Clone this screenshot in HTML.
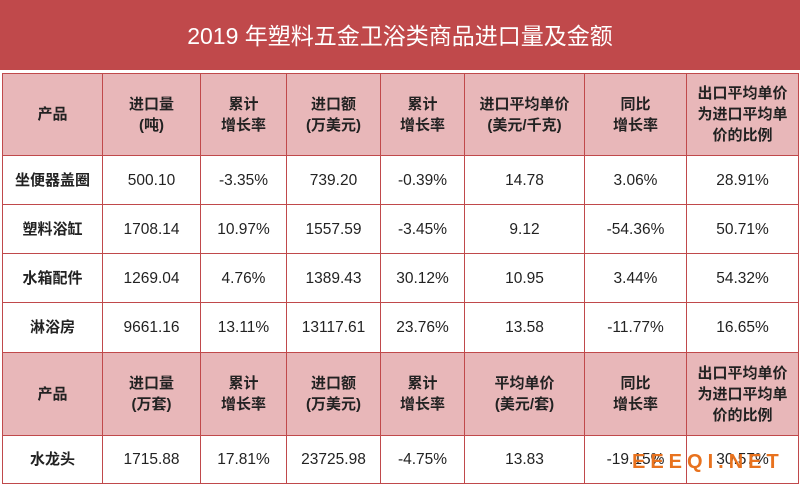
<!DOCTYPE html><html><head><meta charset="utf-8"><style>
body{margin:0;width:800px;height:486px;background:#fff;font-family:"Liberation Sans","Noto Sans CJK SC",sans-serif;overflow:hidden;position:relative}
.t{position:absolute;left:0;top:0;width:800px;height:70px;background:#c0494b;color:#fff;font-size:23px;text-align:center;line-height:72px}
table{position:absolute;left:2px;top:73px;width:796px;border-collapse:collapse;table-layout:fixed}
td{border:1.5px solid #c0494b;text-align:center;font-size:15.5px;color:#222;padding:0;line-height:21px}
tr.h td{background:#e8b7b9;font-weight:bold;font-size:15px}
td.n{font-weight:bold;font-size:15px}
.w{position:absolute;left:632px;top:451px;font-size:20px;font-weight:bold;letter-spacing:5px;color:#e8721e;white-space:nowrap}
</style></head><body>
<div class="t">2019 年塑料五金卫浴类商品进口量及金额</div>
<table>
<colgroup><col style="width:100px"><col style="width:98px"><col style="width:86px"><col style="width:94px"><col style="width:84px"><col style="width:120px"><col style="width:102px"><col style="width:112px"></colgroup>
<tr class="h" style="height:82px"><td>产品</td><td>进口量<br>(吨)</td><td>累计<br>增长率</td><td>进口额<br>(万美元)</td><td>累计<br>增长率</td><td>进口平均单价<br>(美元/千克)</td><td>同比<br>增长率</td><td>出口平均单价<br>为进口平均单<br>价的比例</td></tr>
<tr style="height:49px"><td class="n">坐便器盖圈</td><td>500.10</td><td>-3.35%</td><td>739.20</td><td>-0.39%</td><td>14.78</td><td>3.06%</td><td>28.91%</td></tr>
<tr style="height:49px"><td class="n">塑料浴缸</td><td>1708.14</td><td>10.97%</td><td>1557.59</td><td>-3.45%</td><td>9.12</td><td>-54.36%</td><td>50.71%</td></tr>
<tr style="height:49px"><td class="n">水箱配件</td><td>1269.04</td><td>4.76%</td><td>1389.43</td><td>30.12%</td><td>10.95</td><td>3.44%</td><td>54.32%</td></tr>
<tr style="height:50px"><td class="n">淋浴房</td><td>9661.16</td><td>13.11%</td><td>13117.61</td><td>23.76%</td><td>13.58</td><td>-11.77%</td><td>16.65%</td></tr>
<tr class="h" style="height:83px"><td>产品</td><td>进口量<br>(万套)</td><td>累计<br>增长率</td><td>进口额<br>(万美元)</td><td>累计<br>增长率</td><td>平均单价<br>(美元/套)</td><td>同比<br>增长率</td><td>出口平均单价<br>为进口平均单<br>价的比例</td></tr>
<tr style="height:48px"><td class="n">水龙头</td><td>1715.88</td><td>17.81%</td><td>23725.98</td><td>-4.75%</td><td>13.83</td><td>-19.15%</td><td>30.57%</td></tr>
</table>
<div class="w">EEEQI.NET</div>
</body></html>
